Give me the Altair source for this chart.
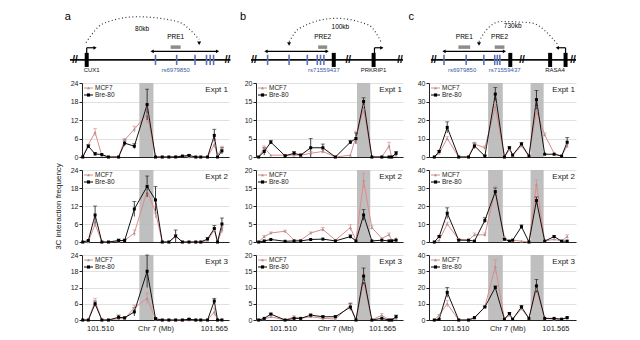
import altair as alt
import pandas as pd

FONT = "Liberation Sans"
SERIES = ["MCF7", "Bre-80"]
LINE_COLORS = ["#e08a8a", "#111111"]
MARK_FILLS = ["#9a9a9a", "#000000"]
MARK_SHAPES = ["triangle-up", "square"]
BAND_COLOR = "#b8b8b8"
SNP_COLOR = "#3b5aa6"
XLAB_TEXT = ["101.510", "Chr 7 (Mb)", "101.565"]

PW = 147
H_HDR, H1, H2, H3 = 64, 74, 72, 65

# ---------------- panel a ----------------
A_POS = [0.5, 4.3, 8.9, 13.5, 18, 24.9, 29, 35.6, 44.3, 50, 54.6, 59.1, 63.7, 68.3, 72.8, 77.4, 80.8, 85.4, 90, 92.2, 95.2]
A_BANDS = [(39, 48.6)]
A_YTICKS = [0, 6, 12, 18, 24]
A_XLAB_POS = [12.3, 50, 89.7]
A1_BRE = [0, 3.5, 1, 0.8, 0, 0, 4.5, 3.5, 17, 0, 0, 0, 0, 0.3, 0.5, 0, 0, 0, 7, 0, 2]
A1_MCF = [0, 4, 8, 0.5, 0, 0, 5.5, 9, 14, 0, 0, 0, 0.2, 0.3, 0, 0, 0, 0, 4, 0.5, 3]
A1_BRE_ERR = [0, 0.5, 0.5, 0, 0, 0, 1, 0.8, 5, 0, 0, 0, 0, 0, 0.3, 0, 0, 0, 2, 0, 1]
A1_MCF_ERR = [0, 0, 1.2, 0, 0, 0, 0.5, 1, 3, 0, 0, 0, 0, 0, 0, 0, 0, 0, 1, 0, 0.5]
A2_BRE = [0, 0.5, 9, 0, 0, 0.5, 0.5, 11, 18.5, 14, 0, 0, 2, 0, 0, 0, 0, 1, 4.5, 0, 6]
A2_MCF = [0, 0, 6, 0, 0, 0.3, 0.5, 3, 17, 10, 0, 0, 2, 0, 0, 0, 0, 0.5, 4, 0, 4]
A2_BRE_ERR = [0, 0, 3, 0, 0, 0.5, 0.5, 2.5, 3.5, 4.5, 0, 0, 2, 0, 0, 0, 0, 0.5, 1, 0, 2]
A2_MCF_ERR = [0, 0, 1, 0, 0, 0, 0, 1, 2, 2, 0, 0, 0.5, 0, 0, 0, 0, 0, 0.5, 0, 1]
A3_BRE = [0, 0, 6, 0, 0, 1, 0.8, 3, 18, 0.5, 0, 0, 0, 0, 0.3, 0, 0, 0, 7, 0, 0]
A3_MCF = [0, 0, 7, 0, 0, 0.5, 0.5, 4.5, 8, 0.3, 0, 0, 0, 0, 0, 0, 0, 0, 3, 0, 0.3]
A3_BRE_ERR = [0, 0, 1, 0, 0, 0.8, 0.3, 1.5, 6, 0.3, 0, 0, 0, 0, 0.2, 0, 0, 0, 1, 0, 0]
A3_MCF_ERR = [0, 0, 1, 0, 0, 0, 0, 1, 2, 0, 0, 0, 0, 0, 0, 0, 0, 0, 1.5, 0, 0]

# ---------------- panel b ----------------
B_POS = [1.8, 5.6, 10.1, 19.8, 25.9, 30.4, 37.2, 45.5, 54, 64.2, 68, 73.2, 78.8, 85.6, 90.5, 92.3, 95.3]
B_BANDS = [(68.7, 77.7)]
B_YTICKS = [0, 5, 10, 15, 20]
B_XLAB_POS = [18.2, 54, 85.8]
B1_BRE = [0, 1.5, 4, 0.3, 1, 0.5, 2.5, 2.5, 0, 4, 5, 15, 0, 0, 0, 0, 1]
B1_MCF = [0, 2.5, 0.5, 0.5, 0.5, 0.5, 1, 1.5, 0, 0.5, 5.5, 13, 0, 0, 3, 0, 0.5]
B1_BRE_ERR = [0, 1, 0.5, 0.3, 0.5, 0.3, 2.5, 1, 0, 0.5, 1.5, 1, 0, 0, 0, 0, 0.5]
B1_MCF_ERR = [0, 0.5, 0, 0, 0, 0, 0.5, 0.5, 0, 0, 1.5, 1, 0, 0, 1, 0, 0]
B2_BRE = [0, 0.3, 0.7, 0.2, 0.3, 0.3, 0.7, 0.8, 0.3, 1.5, 0.3, 7.5, 0.3, 0.5, 0.3, 0.3, 0.5]
B2_MCF = [0, 1.5, 2.5, 3, 0.5, 0.5, 2.5, 3.5, 0.5, 4, 0.5, 17, 4, 1, 2, 0.5, 1]
B2_BRE_ERR = [0, 0, 0, 0, 0, 0, 0, 0, 0, 0.5, 0, 1.5, 0, 0, 0, 0, 0]
B2_MCF_ERR = [0, 0.3, 0.3, 0.3, 0, 0, 0.3, 0.5, 0, 0.8, 0, 2, 0.5, 0, 0.5, 0, 0]
B3_BRE = [0, 0.5, 1.8, 0, 0.5, 0.5, 1.5, 1, 1, 4, 0, 13.5, 0, 0.5, 0, 0, 1]
B3_MCF = [0, 0.3, 1, 0, 1, 0.5, 1, 0.5, 0.3, 4.5, 0, 12, 0, 1.5, 0, 0, 0.5]
B3_BRE_ERR = [0, 0, 0.3, 0, 0, 0, 0.3, 0.3, 0.3, 1, 0, 2.5, 0, 0, 0, 0, 0.5]
B3_MCF_ERR = [0, 0, 0, 0, 0.3, 0, 0.3, 0, 0, 0.8, 0, 1.5, 0, 0.5, 0, 0, 0]

# ---------------- panel c ----------------
C_POS = [3.6, 6.9, 12.4, 20.2, 26.9, 30.9, 38, 45.1, 51.3, 54.7, 56.9, 62.9, 68, 73.1, 78.7, 85.1, 90.2, 94]
C_BANDS = [(40.2, 50.2), (69.1, 78)]
C_YTICKS = [0, 10, 20, 30, 40]
C_XLAB_POS = [18, 53.3, 86]
C1_BRE = [0, 3, 16, 0, 0, 6, 0.5, 34, 0, 5, 1, 7, 0.5, 31, 1.5, 1.5, 0.5, 8]
C1_MCF = [0, 2, 10, 0, 0, 7, 5, 27, 0, 4, 1, 6, 0.5, 25, 12, 2, 0.5, 6]
C1_BRE_ERR = [0, 0.5, 3, 0, 0, 1.5, 0.5, 3.5, 0, 0.5, 0, 0.8, 0, 5, 0, 0, 0, 2.5]
C1_MCF_ERR = [0, 0, 1, 0, 0, 1, 1, 2, 0, 0.5, 0, 0.5, 0, 2, 1, 0, 0, 1]
C2_BRE = [0, 3, 16, 1, 1, 0.5, 12, 28, 1.5, 0.5, 1, 8.5, 0, 23, 0.5, 3, 0.5, 0.5]
C2_MCF = [0, 1, 10, 1.5, 1, 4, 4, 29, 2.5, 0.3, 1, 0.5, 0, 32, 0.5, 1.5, 0.5, 3]
C2_BRE_ERR = [0, 0.5, 3, 0.3, 0, 0, 1.5, 2, 0.5, 0, 0, 1, 0, 2, 0, 0.5, 0, 0]
C2_MCF_ERR = [0, 0, 1, 0.5, 0, 1, 1, 2, 0.5, 0, 0, 0, 0, 2.5, 0, 0, 0, 1]
C3_BRE = [0, 0.5, 17, 0, 0, 1.5, 8, 20, 0.5, 4, 0.5, 8, 1, 21, 1, 1, 0.5, 1.5]
C3_MCF = [0, 3, 10, 0, 0, 1, 8, 33, 0.5, 3, 0.5, 7, 1, 19, 1, 0.5, 0.5, 1]
C3_BRE_ERR = [0, 0, 3, 0, 0, 0, 0.5, 1, 0, 0.5, 0, 1, 0, 4, 0, 0, 0, 0.3]
C3_MCF_ERR = [0, 0.5, 2, 0, 0, 0, 0.5, 4, 0, 0.5, 0, 1, 0, 2, 0, 0, 0, 0]

# ---------------- locus schematics ----------------
A_HDR_LETTER, A_HDR_LETTER_X = "a", -9.6
A_HDR_SEG = [(-8.2, 101)]
A_HDR_BREAKS = [-4.8, 99]
A_HDR_TICKS = [50, 64.4, 76.9, 84.7, 87.2, 89.5]
A_HDR_BOXES = [3.2]
A_HDR_TSS = [(3.2, 8.9)]
A_HDR_PRE = [(60.3, 67.1, "PRE1")]
A_HDR_DARROW = (47.7, 92.2)
A_HDR_ARC_X = [2.7, 14.6, 37.5, 64.8, 79.7]
A_HDR_ARC_Y = [4.9, 7.9, 8.95, 8.2, 5.4]
A_HDR_HEAD = (79.7, 4.8)
A_HDR_KB = ("80kb", 40.9, 7.1)
A_HDR_LABELS = [("CUX1", 6.6, "gene"), ("rs6979850", 63.7, "snp")]

B_HDR_LETTER, B_HDR_LETTER_X = "b", -8.8
B_HDR_SEG = [(-3.4, 100)]
B_HDR_BREAKS = [-1.4, 62.8, 98]
B_HDR_TICKS = [7.9, 22.5, 34.9, 41.7, 43.9, 46.2]
B_HDR_BOXES = [52.9, 80]
B_HDR_TSS = [(80.6, 85.6)]
B_HDR_PRE = [(42.3, 48.4, "PRE2")]
B_HDR_DARROW = (6.8, 48.4)
B_HDR_ARC_X = [22.5, 29.3, 54.1, 76.6, 85.6]
B_HDR_ARC_Y = [5.05, 7.1, 8.7, 7.65, 4.8]
B_HDR_HEAD = (22.5, 4.7)
B_HDR_KB = ("100kb", 57.4, 7.4)
B_HDR_LABELS = [("rs71559437", 46.2, "snp"), ("PRKRIP1", 80, "gene")]

C_HDR_LETTER, C_HDR_LETTER_X = "c", -12
C_HDR_SEG = [(1.3, 100)]
C_HDR_BREAKS = [3.3, 63.3, 98]
C_HDR_TICKS = [10.2, 25.3, 37.3, 44.7, 46.5, 48.2]
C_HDR_BOXES = [55.3, 82.4, 92.9]
C_HDR_TSS = [(92.9, 87.3)]
C_HDR_PRE = [(20, 28, "PRE1"), (44.7, 51.3, "PRE2")]
C_HDR_DARROW = (10.2, 51.3)
C_HDR_ARC_X = [34, 38, 49.1, 69.1, 88]
C_HDR_ARC_Y = [5.05, 6.6, 8.2, 8.0, 4.5]
C_HDR_HEAD = (34, 4.7)
C_HDR_KB = ("730kb", 56.9, 7.5)
C_HDR_LABELS = [("rs6979850", 22.5, "snp"), ("rs71559437", 51.5, "snp"), ("RASA4", 85.8, "gene")]

LINE_V = 2.2


def header(letter, letter_x, segs, breaks, ticks, boxes, tss, pres, darrow, arc_x, arc_y, head, kb, labels):
    xs = alt.Scale(domain=[0, 100], nice=False, zero=False)
    ys = alt.Scale(domain=[0, 10], nice=False)

    def X(f):
        return alt.X(f, type="quantitative", scale=xs, axis=None)

    def Y(f):
        return alt.Y(f, type="quantitative", scale=ys, axis=None)

    L = []
    d = pd.DataFrame({"x0": [s[0] for s in segs], "x1": [s[1] for s in segs], "y": LINE_V})
    L.append(alt.Chart(d).mark_rule(color="#111", strokeWidth=1.6).encode(x=X("x0"), x2="x1", y=Y("y")))
    d = pd.DataFrame({"x": breaks, "y": LINE_V, "t": "//"})
    L.append(alt.Chart(d).mark_text(font=FONT, fontSize=10, fontWeight="bold", baseline="middle").encode(x=X("x"), y=Y("y"), text="t:N"))
    d = pd.DataFrame({"x": ticks, "y0": 1.4, "y1": 3.0})
    L.append(alt.Chart(d).mark_rule(color="#5b73b5", strokeWidth=1.6).encode(x=X("x"), y=Y("y0"), y2="y1"))
    d = pd.DataFrame({"x": boxes, "y0": 1.1, "y1": 3.3})
    L.append(alt.Chart(d).mark_rule(color="#000", strokeWidth=4).encode(x=X("x"), y=Y("y0"), y2="y1"))
    # TSS bent arrows
    d = pd.DataFrame({"x": [t[0] for t in tss], "xe": [t[1] for t in tss], "y0": LINE_V, "y1": 4.1})
    L.append(alt.Chart(d).mark_rule(color="#000", strokeWidth=1.2).encode(x=X("x"), y=Y("y0"), y2="y1"))
    L.append(alt.Chart(d).mark_rule(color="#000", strokeWidth=1.2).encode(x=X("x"), x2="xe", y=Y("y1")))
    d["shape"] = ["triangle-right" if t[1] > t[0] else "triangle-left" for t in tss]
    L.append(alt.Chart(d).mark_point(filled=True, size=14, color="#000", opacity=1).encode(
        x=X("xe"), y=Y("y1"), shape=alt.Shape("shape:N", scale=None)))
    # PRE boxes
    d = pd.DataFrame({"x0": [p[0] for p in pres], "x1": [p[1] for p in pres], "name": [p[2] for p in pres],
                      "xm": [(p[0] + p[1]) / 2 for p in pres], "y": 4.2, "yl": 5.25})
    L.append(alt.Chart(d).mark_rule(color="#8c8c8c", strokeWidth=3.5).encode(x=X("x0"), x2="x1", y=Y("y")))
    L.append(alt.Chart(d).mark_text(font=FONT, fontSize=6.5, baseline="bottom").encode(x=X("xm"), y=Y("yl"), text="name:N"))
    # double-headed arrow
    d = pd.DataFrame({"x0": [darrow[0]], "x1": [darrow[1]], "y": 3.55})
    L.append(alt.Chart(d).mark_rule(color="#000", strokeWidth=1.2).encode(x=X("x0"), x2="x1", y=Y("y")))
    d = pd.DataFrame({"x": list(darrow), "y": 3.55, "shape": ["triangle-left", "triangle-right"]})
    L.append(alt.Chart(d).mark_point(filled=True, size=14, color="#000", opacity=1).encode(
        x=X("x"), y=Y("y"), shape=alt.Shape("shape:N", scale=None)))
    # dotted arc
    d = pd.DataFrame({"x": arc_x, "y": arc_y})
    L.append(alt.Chart(d).mark_line(color="#333", strokeWidth=1.2, strokeDash=[1, 2.5], interpolate="monotone").encode(
        x=X("x"), y=Y("y")))
    d = pd.DataFrame({"x": [head[0]], "y": [head[1]]})
    L.append(alt.Chart(d).mark_point(filled=True, size=16, color="#000", shape="triangle-down", opacity=1).encode(x=X("x"), y=Y("y")))
    d = pd.DataFrame({"t": [kb[0]], "x": [kb[1]], "y": [kb[2]]})
    L.append(alt.Chart(d).mark_text(font=FONT, fontSize=6.5, baseline="middle").encode(x=X("x"), y=Y("y"), text="t:N"))
    # labels
    d = pd.DataFrame({"t": [l[0] for l in labels], "x": [l[1] for l in labels],
                      "c": [SNP_COLOR if l[2] == "snp" else "#111" for l in labels], "y": 0.55})
    L.append(alt.Chart(d).mark_text(font=FONT, fontSize=6, baseline="middle").encode(
        x=X("x"), y=Y("y"), text="t:N", color=alt.Color("c:N", scale=None)))
    d = pd.DataFrame({"t": [letter], "x": [letter_x], "y": [8.9]})
    L.append(alt.Chart(d).mark_text(font=FONT, fontSize=11, baseline="middle").encode(x=X("x"), y=Y("y"), text="t:N"))
    return alt.layer(*L).properties(width=PW, height=H_HDR)


def legend_layers():
    """In-panel key: short line, marker and label for each cell line."""
    out = []
    for i, name in enumerate(SERIES):
        yy = 5 + 7 * i
        d = pd.DataFrame({"t": [name]})
        out.append(alt.Chart(d).mark_rule(color=LINE_COLORS[i] if i == 0 else "#000", strokeWidth=1).encode(
            x=alt.value(2), x2=alt.value(11), y=alt.value(yy)))
        out.append(alt.Chart(d).mark_point(filled=True, size=10, opacity=1, color=MARK_FILLS[i],
                                           shape=MARK_SHAPES[i]).encode(x=alt.value(6.5), y=alt.value(yy)))
        out.append(alt.Chart(d).mark_text(font=FONT, fontSize=6.5, align="left", baseline="middle",
                                          color="#222").encode(text="t:N", x=alt.value(13), y=alt.value(yy)))
    return out


def panel(pos, bre, mcf, bre_err, mcf_err, bands, yticks, expt, h, xlab_pos=None, ytitle=None):
    n = len(pos)
    df = pd.DataFrame({
        "pos": list(pos) * 2,
        "val": list(mcf) + list(bre),
        "err": list(mcf_err) + list(bre_err),
        "line": ["MCF7"] * n + ["Bre-80"] * n,
    })
    df["lo"] = (df["val"] - df["err"]).clip(lower=0)
    df["hi"] = df["val"] + df["err"]
    ed = df[df["err"] > 0]
    bd = pd.DataFrame({"x0": [b[0] for b in bands], "x1": [b[1] for b in bands]})

    xs = alt.Scale(domain=[0, 100], nice=False, zero=False)
    ys = alt.Scale(domain=[yticks[0], yticks[-1]], nice=False)
    if xlab_pos:
        arr = ",".join(str(v) for v in xlab_pos)
        labs = ",".join("'" + t + "'" for t in XLAB_TEXT)
        xaxis = alt.Axis(values=xlab_pos, labelExpr="[" + labs + "][indexof([" + arr + "], datum.value)]",
                         title=None, grid=False, ticks=False, labelFontSize=7.5, labelPadding=4,
                         domainColor="#222", labelColor="#222", labelFont=FONT)
    else:
        xaxis = alt.Axis(labels=False, ticks=False, title=None, grid=False, domainColor="#222")
    yaxis = alt.Axis(values=yticks, title=ytitle, grid=True, gridColor="#d4d4d4", gridWidth=0.7,
                     tickSize=3, labelFontSize=7, labelPadding=1, domainColor="#222", tickColor="#222",
                     labelColor="#222", labelFont=FONT, titleFont=FONT, titleFontSize=8,
                     titleFontWeight="normal", titlePadding=8, titleColor="#222")

    def X(f):
        return alt.X(f, type="quantitative", scale=xs, axis=xaxis)

    def Y(f):
        return alt.Y(f, type="quantitative", scale=ys, axis=yaxis)

    cs = alt.Scale(domain=SERIES, range=LINE_COLORS)

    band = alt.Chart(bd).mark_rect(color=BAND_COLOR, opacity=0.9).encode(
        x=X("x0"), x2="x1", y=alt.value(0), y2=alt.value(h))
    line = alt.Chart(df).mark_line(strokeWidth=1).encode(
        x=X("pos"), y=Y("val"), color=alt.Color("line:N", scale=cs, legend=None))
    err = alt.Chart(ed).mark_rule(strokeWidth=0.8).encode(
        x=X("pos"), y=Y("lo"), y2="hi", color=alt.Color("line:N", scale=cs, legend=None))
    cap_hi = alt.Chart(ed).mark_tick(size=4, thickness=0.8, orient="horizontal").encode(
        x=X("pos"), y=Y("hi"), color=alt.Color("line:N", scale=cs, legend=None))
    pts = alt.Chart(df).mark_point(filled=True, size=9, opacity=1).encode(
        x=X("pos"), y=Y("val"),
        fill=alt.Fill("line:N", scale=alt.Scale(domain=SERIES, range=MARK_FILLS), legend=None),
        shape=alt.Shape("line:N", scale=alt.Scale(domain=SERIES, range=MARK_SHAPES), legend=None))
    txt = alt.Chart(pd.DataFrame({"t": [expt]})).mark_text(
        font=FONT, fontSize=8, align="right", baseline="top", color="#222").encode(
        text="t:N", x=alt.value(PW - 1), y=alt.value(3))
    return alt.layer(band, line, err, cap_hi, pts, txt, *legend_layers()).properties(width=PW, height=h)


RES = dict(color="independent", fill="independent", shape="independent")


def column(hdr, p1, p2, p3):
    rows = alt.vconcat(p1, p2, p3, spacing=13, bounds="flush").resolve_scale(**RES)
    return alt.vconcat(hdr, rows, spacing=9, bounds="flush").resolve_scale(**RES)


colA = column(
    header(A_HDR_LETTER, A_HDR_LETTER_X, A_HDR_SEG, A_HDR_BREAKS, A_HDR_TICKS, A_HDR_BOXES, A_HDR_TSS,
           A_HDR_PRE, A_HDR_DARROW, A_HDR_ARC_X, A_HDR_ARC_Y, A_HDR_HEAD, A_HDR_KB, A_HDR_LABELS),
    panel(A_POS, A1_BRE, A1_MCF, A1_BRE_ERR, A1_MCF_ERR, A_BANDS, A_YTICKS, "Expt 1", H1),
    panel(A_POS, A2_BRE, A2_MCF, A2_BRE_ERR, A2_MCF_ERR, A_BANDS, A_YTICKS, "Expt 2", H2,
          ytitle="3C interaction frequency"),
    panel(A_POS, A3_BRE, A3_MCF, A3_BRE_ERR, A3_MCF_ERR, A_BANDS, A_YTICKS, "Expt 3", H3, xlab_pos=A_XLAB_POS),
)
colB = column(
    header(B_HDR_LETTER, B_HDR_LETTER_X, B_HDR_SEG, B_HDR_BREAKS, B_HDR_TICKS, B_HDR_BOXES, B_HDR_TSS,
           B_HDR_PRE, B_HDR_DARROW, B_HDR_ARC_X, B_HDR_ARC_Y, B_HDR_HEAD, B_HDR_KB, B_HDR_LABELS),
    panel(B_POS, B1_BRE, B1_MCF, B1_BRE_ERR, B1_MCF_ERR, B_BANDS, B_YTICKS, "Expt 1", H1),
    panel(B_POS, B2_BRE, B2_MCF, B2_BRE_ERR, B2_MCF_ERR, B_BANDS, B_YTICKS, "Expt 2", H2),
    panel(B_POS, B3_BRE, B3_MCF, B3_BRE_ERR, B3_MCF_ERR, B_BANDS, B_YTICKS, "Expt 3", H3, xlab_pos=B_XLAB_POS),
)
colC = column(
    header(C_HDR_LETTER, C_HDR_LETTER_X, C_HDR_SEG, C_HDR_BREAKS, C_HDR_TICKS, C_HDR_BOXES, C_HDR_TSS,
           C_HDR_PRE, C_HDR_DARROW, C_HDR_ARC_X, C_HDR_ARC_Y, C_HDR_HEAD, C_HDR_KB, C_HDR_LABELS),
    panel(C_POS, C1_BRE, C1_MCF, C1_BRE_ERR, C1_MCF_ERR, C_BANDS, C_YTICKS, "Expt 1", H1),
    panel(C_POS, C2_BRE, C2_MCF, C2_BRE_ERR, C2_MCF_ERR, C_BANDS, C_YTICKS, "Expt 2", H2),
    panel(C_POS, C3_BRE, C3_MCF, C3_BRE_ERR, C3_MCF_ERR, C_BANDS, C_YTICKS, "Expt 3", H3, xlab_pos=C_XLAB_POS),
)

ab = alt.hconcat(colA, colB, spacing=8).resolve_scale(**RES)
chart = alt.hconcat(ab, colC, spacing=4).resolve_scale(**RES).properties(
    padding={"left": 46, "top": 2, "right": 5, "bottom": 5}, background="white"
).configure_view(stroke=None)

chart.save("out.html", embed_options={"renderer": "svg", "actions": False})
